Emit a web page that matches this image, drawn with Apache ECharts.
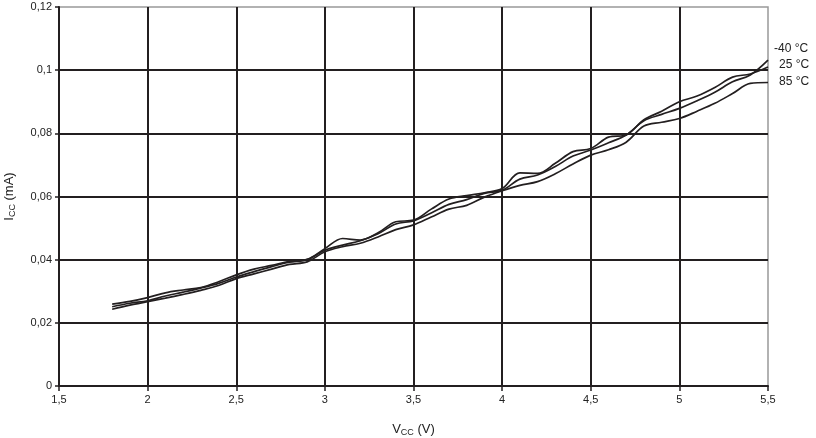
<!DOCTYPE html>
<html>
<head>
<meta charset="utf-8">
<script src="https://cdn.jsdelivr.net/npm/echarts@6/dist/echarts.min.js"></script>
<style>
html,body{margin:0;padding:0;background:#fff;}
#c{width:816px;height:438px;}
</style>
</head>
<body>
<div id="c"></div>
<script>
const vcc = [1.8,1.9,2.0,2.1,2.2,2.3,2.4,2.5,2.6,2.7,2.8,2.9,3.0,3.1,3.2,3.3,3.4,3.5,3.6,3.7,3.8,3.9,4.0,4.1,4.2,4.3,4.4,4.5,4.6,4.7,4.8,4.9,5.0,5.1,5.2,5.3,5.4,5.5];
const iccA = [0.0259,0.0268,0.0280,0.0295,0.0304,0.0312,0.0330,0.0352,0.0370,0.0382,0.0395,0.0401,0.0435,0.0467,0.0462,0.0485,0.0520,0.0525,0.0560,0.0592,0.0603,0.0612,0.0625,0.0675,0.0673,0.0705,0.0742,0.0752,0.0788,0.0795,0.0843,0.0870,0.0900,0.0918,0.0945,0.0978,0.0988,0.1010];
const iccB = [0.0251,0.0262,0.0270,0.0285,0.0297,0.0310,0.0325,0.0345,0.0362,0.0378,0.0392,0.0400,0.0430,0.0446,0.0460,0.0482,0.0513,0.0523,0.0548,0.0575,0.0590,0.0610,0.0620,0.0655,0.0668,0.0695,0.0728,0.0747,0.0770,0.0795,0.0840,0.0860,0.0879,0.0903,0.0930,0.0963,0.0985,0.1032];
const iccC = [0.0243,0.0256,0.0267,0.0278,0.0290,0.0303,0.0318,0.0340,0.0355,0.0370,0.0385,0.0393,0.0425,0.0441,0.0452,0.0472,0.0495,0.0510,0.0535,0.0560,0.0572,0.0598,0.0618,0.0635,0.0647,0.0672,0.0703,0.0731,0.0748,0.0772,0.0823,0.0835,0.0847,0.0870,0.0895,0.0926,0.0958,0.0961];
const seriesNames = ['-40 °C', '25 °C', '85 °C'];
const xTitle = 'V';
const xSub = 'CC';
const xUnit = ' (V)';
const yTitle = 'I';
const ySub = 'CC';
const yUnit = ' (mA)';

const fmt = v => String(+v.toFixed(4)).replace('.', ',');
const pair = arr => vcc.map((x, i) => [x, arr[i]]);
const font = 'Liberation Sans, Arial, sans-serif';
const lineCol = '#231f20';

const chart = echarts.init(document.getElementById('c'), null, {renderer: 'canvas'});
chart.setOption({
  animation: false,
  backgroundColor: '#fff',
  grid: {left: 59, right: 48, top: 7, bottom: 52, show: true, borderColor: '#999', borderWidth: 1.5, containLabel: false, outerBoundsMode: 'none'},
  xAxis: {
    type: 'value', min: 1.5, max: 5.5, interval: 0.5,
    axisLine: {show: true, onZero: false, lineStyle: {color: lineCol, width: 2}},
    axisTick: {show: true, length: 5, lineStyle: {color: lineCol, width: 1.5}},
    axisLabel: {color: '#222', fontFamily: font, fontSize: 11, margin: 8, formatter: fmt},
    splitLine: {show: true, showMinLine: false, showMaxLine: false, lineStyle: {color: lineCol, width: 2}},
    name: '{a|' + xTitle + '}{s|' + xSub + '}{a|' + xUnit + '}',
    nameLocation: 'middle', nameGap: 36,
    nameTextStyle: {rich: {a: {fontFamily: font, fontSize: 13, color: '#222'}, s: {fontFamily: font, fontSize: 9, color: '#222', padding: [6, 0, 0, 0]}}}
  },
  yAxis: {
    type: 'value', min: 0, max: 0.12, interval: 0.02,
    axisLine: {show: true, lineStyle: {color: lineCol, width: 2}},
    axisTick: {show: true, length: 4, lineStyle: {color: lineCol, width: 1.5}},
    axisLabel: {color: '#222', fontFamily: font, fontSize: 11, margin: 7, formatter: fmt},
    splitLine: {show: true, showMinLine: false, showMaxLine: false, lineStyle: {color: lineCol, width: 2}},
    name: '{a|' + yTitle + '}{s|' + ySub + '}{a|' + yUnit + '}',
    nameLocation: 'middle', nameGap: 42, nameRotate: 90,
    nameTextStyle: {rich: {a: {fontFamily: font, fontSize: 13, color: '#222'}, s: {fontFamily: font, fontSize: 9, color: '#222', padding: [6, 0, 0, 0]}}}
  },
  series: [iccA, iccB, iccC].map((d, i) => ({
    type: 'line', name: seriesNames[i], data: pair(d), smooth: 0.35,
    showSymbol: false, symbol: 'none',
    lineStyle: {color: lineCol, width: 1.7}
  })),
  graphic: [
    {type: 'text', left: 774, top: 43, style: {text: seriesNames[0], font: '12px ' + font, fill: '#222'}},
    {type: 'text', left: 779, top: 59, style: {text: seriesNames[1], font: '12px ' + font, fill: '#222'}},
    {type: 'text', left: 779, top: 76, style: {text: seriesNames[2], font: '12px ' + font, fill: '#222'}}
  ]
});
</script>
</body>
</html>
